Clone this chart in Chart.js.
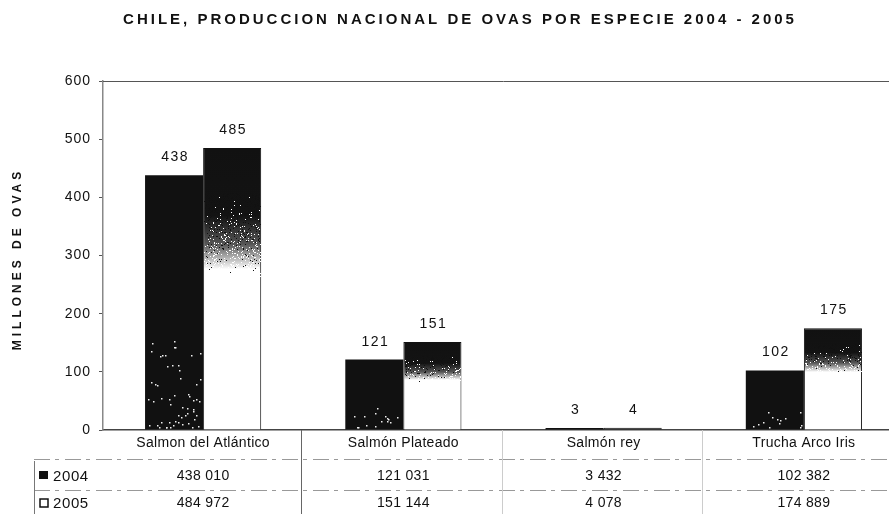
<!DOCTYPE html>
<html lang="es">
<head>
<meta charset="utf-8">
<title>Producción nacional de ovas por especie</title>
<script src="https://cdn.jsdelivr.net/npm/chart.js@4/dist/chart.umd.min.js"></script>
<style>
  html, body { margin: 0; padding: 0; background: #fff; overflow: hidden; }
  #grafico { display: block; }
</style>
</head>
<body>
<canvas id="grafico" width="904" height="514"></canvas>
<script>
// Especies y producción en miles de ovas (tabla de datos)
const especies = ['Salmon del Atlántico', 'Salmón Plateado', 'Salmón rey', 'Trucha Arco Iris'];
const miles2004 = [438010, 121031, 3432, 102382];
const miles2005 = [484972, 151144, 4078, 174889];
const anios = ['2004', '2005'];
const ticksY = [0, 100, 200, 300, 400, 500, 600];

// Millones para las barras
const millones2004 = miles2004.map(v => v / 1000);
const millones2005 = miles2005.map(v => v / 1000);

const fuente = '"Liberation Sans", Arial, sans-serif';

// formato con espacio como separador de miles
function formatoMiles(n) {
  return String(n).replace(/\B(?=(\d{3})+(?!\d))/g, ' ');
}

// ruido determinista para el granulado de las barras
function ruido(i) {
  const x = Math.sin(i * 12.9898 + 78.233) * 43758.5453;
  return x - Math.floor(x);
}

// degradado negro -> blanco de las barras 2005
function degradado2005(ctx) {
  const chart = ctx.chart;
  if (!chart.chartArea || ctx.type !== 'data') return '#fff';
  const y = chart.scales.y;
  const arriba = y.getPixelForValue(ctx.raw);
  const base = y.getPixelForValue(0);
  if (base - arriba < 10) return '#111';
  const g = chart.ctx.createLinearGradient(0, arriba, 0, base);
  g.addColorStop(0, '#111');
  g.addColorStop(0.24, '#131313');
  g.addColorStop(0.34, '#555');
  g.addColorStop(0.43, '#fff');
  g.addColorStop(1, '#fff');
  return g;
}

const extras = {
  id: 'extras',
  beforeDraw(chart) {
    chart.ctx.letterSpacing = '1px';
  },
  afterDatasetsDraw(chart) {
    const ctx = chart.ctx;
    ctx.save();
    // granulado
    chart.getDatasetMeta(1).data.forEach((el, k) => {
      const x0 = el.x - el.width / 2 + 1, w = el.width - 2;
      const h = el.base - el.y;
      if (h < 10) return;
      const ini = el.y + h * 0.16, fin = el.y + h * 0.46;
      let n = 0;
      for (let yy = ini; yy < fin; yy += 1) {
        const t = (yy - ini) / (fin - ini);
        const cant = Math.round(w * 0.16);
        for (let j = 0; j < cant; j++) {
          n++;
          const px = x0 + ruido(n + k * 9000) * w;
          const blanco = ruido(n * 3 + k * 777) < t;
          ctx.fillStyle = blanco ? '#fff' : '#111';
          ctx.fillRect(Math.round(px), Math.round(yy), 1, 1);
        }
      }
    });
    chart.getDatasetMeta(0).data.forEach((el, k) => {
      const x0 = el.x - el.width / 2, w = el.width;
      const h = el.base - el.y;
      if (h < 10) return;
      const cant = Math.round(h * 0.22);
      ctx.fillStyle = '#eee';
      for (let j = 0; j < cant; j++) {
        const px = x0 + 2 + ruido(j + k * 5000) * (w - 4);
        const py = el.base - 2 - Math.pow(ruido(j * 7 + k * 300), 2.2) * h * 0.35;
        ctx.fillRect(Math.round(px), Math.round(py), 1.5, 1.5);
      }
    });
    ctx.restore();
  },
  afterDraw(chart) {
    const ctx = chart.ctx;
    const area = chart.chartArea;
    const xs = chart.scales.x;
    const ancho = (area.right - area.left) / especies.length;
    ctx.save();

    // título
    ctx.fillStyle = '#111';
    ctx.font = 'bold 15px ' + fuente;
    ctx.letterSpacing = '3px';
    ctx.textAlign = 'center';
    ctx.textBaseline = 'middle';
    ctx.fillText('CHILE, PRODUCCION NACIONAL DE OVAS POR ESPECIE 2004 - 2005', 460, 20);

    // título eje Y
    ctx.save();
    ctx.translate(18, 259);
    ctx.rotate(-Math.PI / 2);
    ctx.font = 'bold 12px ' + fuente;
    ctx.letterSpacing = '4px';
    ctx.fillText('MILLONES DE OVAS', 0, 0);
    ctx.restore();

    // línea superior del área
    ctx.strokeStyle = '#555';
    ctx.lineWidth = 1;
    ctx.beginPath();
    ctx.moveTo(area.left, area.top + 0.5);
    ctx.lineTo(area.right, area.top + 0.5);
    ctx.stroke();

    // etiquetas de valor
    ctx.letterSpacing = '1.5px';
    ctx.font = '14px ' + fuente;
    ctx.textBaseline = 'alphabetic';
    chart.data.datasets.forEach((ds, i) => {
      chart.getDatasetMeta(i).data.forEach((el, k) => {
        ctx.fillText(String(Math.round(ds.data[k])), el.x + 1, el.y - 14);
      });
    });

    // categorías y tabla de datos
    ctx.textBaseline = 'middle';
    ctx.font = '14px ' + fuente;
    ctx.letterSpacing = '0.3px';
    especies.forEach((nombre, k) => {
      const cx = xs.getPixelForValue(k);
      ctx.fillText(nombre, cx, 443);
      ctx.fillText(formatoMiles(miles2004[k]), cx, 476);
      ctx.fillText(formatoMiles(miles2005[k]), cx, 503);
    });

    // leyenda de la tabla
    ctx.textAlign = 'left';
    ctx.font = '15px ' + fuente;
    ctx.letterSpacing = '0.6px';
    ctx.fillStyle = '#111';
    ctx.fillRect(39, 471, 9, 8);
    ctx.fillText(anios[0], 53, 477);
    ctx.strokeStyle = '#111';
    ctx.lineWidth = 1.5;
    ctx.strokeRect(40, 499, 8, 8);
    ctx.fillText(anios[1], 53, 504);

    // líneas de la tabla
    ctx.strokeStyle = '#999';
    ctx.lineWidth = 1;
    ctx.setLineDash([16, 5, 4, 6]);
    [459, 490].forEach(y => {
      ctx.beginPath();
      ctx.moveTo(34, y + 0.5);
      ctx.lineTo(area.right, y + 0.5);
      ctx.stroke();
    });
    ctx.setLineDash([]);
    ctx.strokeStyle = '#777';
    ctx.beginPath();
    ctx.moveTo(34.5, 461);
    ctx.lineTo(34.5, 514);
    ctx.stroke();
    for (let k = 1; k < especies.length; k++) {
      const x = Math.round(area.left + ancho * k) - 1.5;
      ctx.strokeStyle = k === 1 ? '#666' : '#ccc';
      ctx.beginPath();
      ctx.moveTo(x, area.bottom);
      ctx.lineTo(x, 514);
      ctx.stroke();
    }
    ctx.restore();
  }
};

new Chart(document.getElementById('grafico'), {
  type: 'bar',
  data: {
    labels: especies,
    datasets: [
      {
        label: anios[0],
        data: millones2004,
        backgroundColor: '#111',
        borderWidth: 0,
        categoryPercentage: 0.58,
        barPercentage: 1
      },
      {
        label: anios[1],
        data: millones2005,
        backgroundColor: degradado2005,
        borderColor: '#111',
        borderWidth: 1,
        categoryPercentage: 0.58,
        barPercentage: 1
      }
    ]
  },
  options: {
    responsive: false,
    animation: false,
    layout: { padding: { top: 81, left: 0, right: 0, bottom: 0 } },
    plugins: {
      legend: { display: false },
      title: { display: false },
      tooltip: { enabled: false }
    },
    scales: {
      x: {
        ticks: { display: false },
        grid: { display: false },
        border: { display: true, color: '#444', width: 1.5 },
        afterFit: s => { s.height = 84; }
      },
      y: {
        min: 0,
        max: 600,
        afterBuildTicks: s => { s.ticks = ticksY.map(v => ({ value: v })); },
        ticks: {
          color: '#111',
          font: { family: fuente, size: 14 },
          padding: 8
        },
        grid: { drawOnChartArea: false, tickLength: 4, tickColor: '#555' },
        border: { display: true, color: '#888', width: 1.5 },
        afterFit: s => { s.width = 103; }
      }
    }
  },
  plugins: [extras]
});
</script>
</body>
</html>
